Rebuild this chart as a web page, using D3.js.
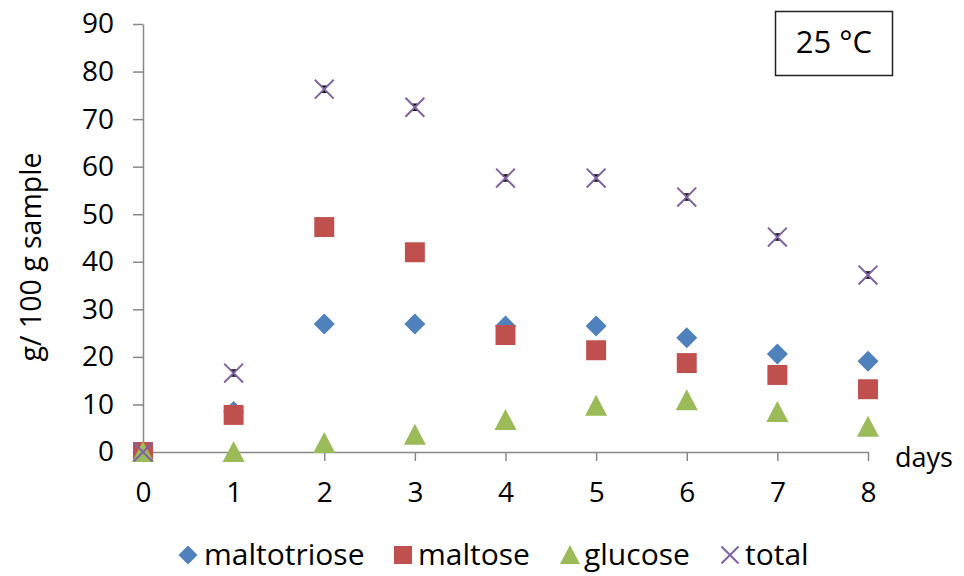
<!DOCTYPE html>
<html>
<head>
  <style>
    body { margin: 0; padding: 0; background: #fff; }
    text { font-family: "Open Sans", "Noto Sans", sans-serif; fill: #000; }
  </style>
</head>
<body>
  <div id="chart"></div>
  <script src="https://d3js.org/d3.v7.min.js"></script>
  <script>
    // data
    const days = [0, 1, 2, 3, 4, 5, 6, 7, 8];
    const maltotriose = [0, 8.5, 26.9, 26.9, 26.5, 26.5, 24.0, 20.6, 19.1];
    const maltose = [0, 7.8, 47.3, 42.0, 24.6, 21.4, 18.7, 16.2, 13.2];
    const glucose = [0, 0, 1.9, 3.6, 6.7, 9.7, 10.9, 8.4, 5.3];
    const total = [0, 16.6, 76.3, 72.5, 57.6, 57.6, 53.6, 45.2, 37.2];
    const yTicks = [0, 10, 20, 30, 40, 50, 60, 70, 80, 90];

    const seriesNames = ['maltotriose', 'maltose', 'glucose', 'total'];
    const colors = ['#4F81BD', '#C0504D', '#9BBB59', '#8064A2'];

    const width = 964, height = 576;
    const svg = d3.select('#chart').append('svg')
      .attr('width', width)
      .attr('height', height);

    const x = d3.scaleLinear().domain([0, 8]).range([143, 868]);
    const y = d3.scaleLinear().domain([0, 90]).range([452, 24]);

    // y axis
    const yAxis = svg.append('g')
      .attr('transform', `translate(${x(0)},0)`)
      .call(d3.axisLeft(y).tickValues(yTicks).tickSize(10).tickSizeOuter(0).tickPadding(19));
    yAxis.select('.domain').attr('stroke', '#888').attr('stroke-width', 1.5);
    yAxis.selectAll('.tick line').attr('stroke', '#888').attr('stroke-width', 1.5);
    yAxis.selectAll('.tick text').style('font-size', '28px').attr('fill', '#000');

    // x axis
    const xAxis = svg.append('g')
      .attr('transform', `translate(0,${y(0)})`)
      .call(d3.axisBottom(x).tickValues(days).tickSize(9).tickSizeOuter(0).tickPadding(21));
    xAxis.select('.domain').attr('stroke', '#888').attr('stroke-width', 1.5);
    xAxis.selectAll('.tick line').attr('stroke', '#888').attr('stroke-width', 1.5);
    xAxis.selectAll('.tick text').style('font-size', '28px').attr('fill', '#000');

    // axis titles
    svg.append('text')
      .attr('transform', `translate(41,257) rotate(-90)`)
      .attr('text-anchor', 'middle')
      .style('font-size', '28.5px')
      .text('g/ 100 g sample');

    svg.append('text')
      .attr('x', 895).attr('y', 467)
      .style('font-size', '27px')
      .text('days');

    // temperature box
    svg.append('rect')
      .attr('x', 775.5).attr('y', 11.5).attr('width', 117).attr('height', 64)
      .attr('fill', '#fff').attr('stroke', '#222').attr('stroke-width', 1.5);
    svg.append('text')
      .attr('x', 834).attr('y', 53)
      .attr('text-anchor', 'middle')
      .style('font-size', '31px')
      .text('25 °C');

    // marker shapes
    function drawMarker(g, kind, color, s) {
      if (kind === 0) {
        g.append('path').attr('d', `M0,${-s}L${s},0L0,${s}L${-s},0Z`).attr('fill', color);
      } else if (kind === 1) {
        g.append('rect').attr('x', -s * 0.95).attr('y', -s * 0.95)
          .attr('width', s * 1.9).attr('height', s * 1.9).attr('fill', color);
      } else if (kind === 2) {
        g.append('path').attr('d', `M0,${-s * 1.05}L${s * 1.05},${s * 0.95}L${-s * 1.05},${s * 0.95}Z`).attr('fill', color);
      } else {
        const c = s * 0.9;
        g.append('path').attr('d', `M${-c},${-c}L${c},${c}M${-c},${c}L${c},${-c}`)
          .attr('stroke', color).attr('stroke-width', 2).attr('fill', 'none');
      }
    }

    const allSeries = [maltotriose, maltose, glucose, total];
    allSeries.forEach((vals, si) => {
      const grp = svg.append('g').attr('class', 'series-' + seriesNames[si]);
      vals.forEach((v, i) => {
        const pg = grp.append('g').attr('transform', `translate(${x(days[i])},${y(v)})`);
        if (si === 3 && i > 0) {
          // tiny error bars
          pg.append('path').attr('d', 'M-3,-3H3M0,-3V3M-3,3H3')
            .attr('stroke', '#000').attr('stroke-width', 1.5).attr('fill', 'none');
        }
        drawMarker(pg, si, colors[si], 10.5);
      });
    });

    // legend
    const legendItems = [
      { sx: 188, tx: 204 },
      { sx: 403, tx: 418 },
      { sx: 570, tx: 584 },
      { sx: 730, tx: 745 }
    ];
    legendItems.forEach((it, i) => {
      const g = svg.append('g').attr('transform', `translate(${it.sx},555)`);
      drawMarker(g, i, colors[i], 9.5);
      svg.append('text')
        .attr('x', it.tx).attr('y', 565)
        .style('font-size', '30px')
        .text(seriesNames[i]);
    });
  </script>
</body>
</html>
